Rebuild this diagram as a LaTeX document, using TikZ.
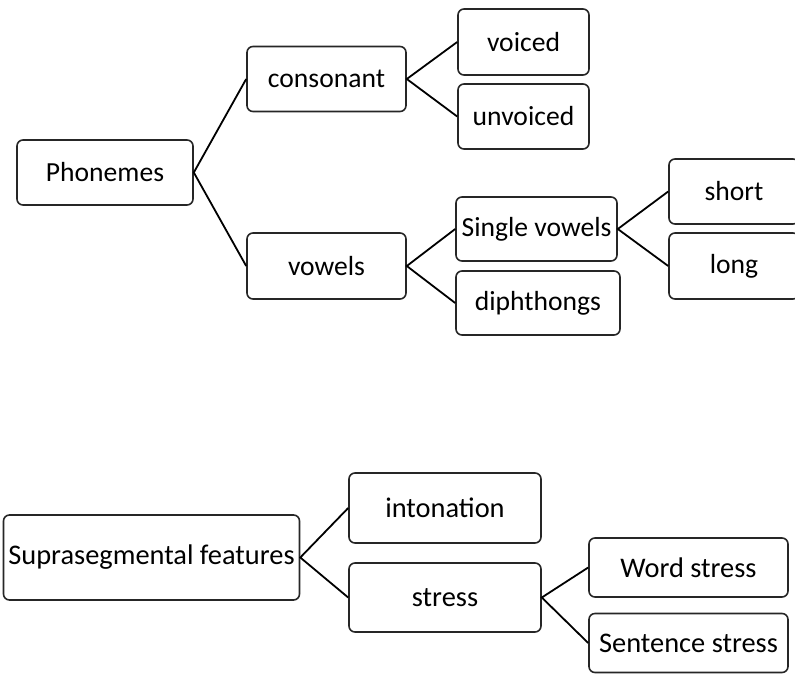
\documentclass[tikz,border=0pt]{standalone}
\usepackage{fontspec}
\setmainfont{Carlito}
\begin{document}
\begin{tikzpicture}[x=1pt,y=-1pt,
  box/.style={draw=black!85, line width=1.6pt, rounded corners=6pt, inner sep=0pt,
    font=\fontsize{27.6}{30}\selectfont, text=black},
  boxb/.style={box, font=\fontsize{28.4}{31}\selectfont},
  link/.style={line width=1.8pt, black}]
\useasboundingbox (0,0) rectangle (795,673);
\node[box, minimum width=176pt, minimum height=65pt] (phon) at (105,172.5) {Phonemes};
\node[box, minimum width=159pt, minimum height=65pt] (cons) at (326.5,79) {consonant};
\node[box, minimum width=159pt, minimum height=66pt] (vow) at (326.5,266) {vowels};
\node[box, minimum width=131pt, minimum height=66pt] (voiced) at (523.5,42) {voiced};
\node[box, minimum width=131pt, minimum height=65pt] (unvoiced) at (523.5,116.5) {unvoiced};
\node[box, minimum width=161pt, minimum height=64pt] (single) at (536.5,229) {Single vowels};
\node[box, minimum width=164pt, minimum height=64pt] (diph) at (538,303) {diphthongs};
\node[box, minimum width=130pt, minimum height=65pt] (short) at (734,191.5) {short};
\node[box, minimum width=130pt, minimum height=66pt] (long) at (734,266) {long};
\node[boxb, minimum width=296pt, minimum height=85pt] (supra) at (151.5,557.5) {Suprasegmental features};
\node[boxb, minimum width=192pt, minimum height=70pt] (inton) at (445,508) {intonation};
\node[boxb, minimum width=192pt, minimum height=69pt] (stress) at (445,597.5) {stress};
\node[boxb, minimum width=199pt, minimum height=59pt] (word) at (688.5,567.5) {Word stress};
\node[boxb, minimum width=199pt, minimum height=59pt] (sent) at (688.5,643) {Sentence stress};
\draw[link] (cons.west) -- (phon.east) -- (vow.west);
\draw[link] (voiced.west) -- (cons.east) -- (unvoiced.west);
\draw[link] (single.west) -- (vow.east) -- (diph.west);
\draw[link] (short.west) -- (single.east) -- (long.west);
\draw[link] (inton.west) -- (supra.east) -- (stress.west);
\draw[link] (word.west) -- (stress.east) -- (sent.west);
\end{tikzpicture}
\end{document}
